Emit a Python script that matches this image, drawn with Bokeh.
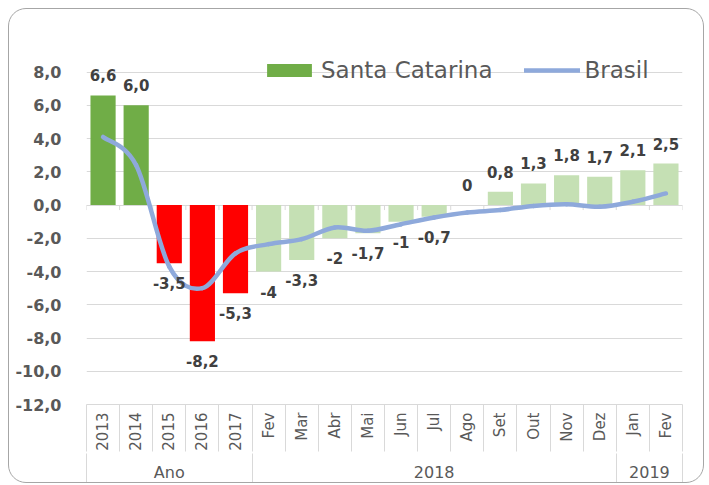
import math
from bokeh.plotting import figure
from bokeh.models import Range1d, LinearAxis, FixedTicker, ColumnDataSource, Legend, LegendItem
from bokeh.core.properties import value
from bokeh.embed import file_html
from bokeh.resources import INLINE

# ---- data ----
categories = ["2013", "2014", "2015", "2016", "2017",
              "Fev", "Mar", "Abr", "Mai", "Jun", "Jul", "Ago", "Set", "Out", "Nov", "Dez",
              "Jan", "Fev"]
groups = ["Ano"] * 5 + ["2018"] * 11 + ["2019"] * 2
group_names = ["Ano", "2018", "2019"]
santa_catarina = [6.6, 6.0, -3.5, -8.2, -5.3, -4.0, -3.3, -2.0, -1.7, -1.0, -0.7, 0.0,
                  0.8, 1.3, 1.8, 1.7, 2.1, 2.5]
sc_labels = ["6,6", "6,0", "-3,5", "-8,2", "-5,3", "-4", "-3,3", "-2", "-1,7", "-1", "-0,7", "0",
             "0,8", "1,3", "1,8", "1,7", "2,1", "2,5"]
brasil = [4.1, 2.4, -3.7, -5.0, -2.9, -2.35, -2.05, -1.35, -1.55, -1.15, -0.75, -0.45,
          -0.3, -0.05, 0.05, -0.1, 0.2, 0.7]
y_ticks = [-12, -10, -8, -6, -4, -2, 0, 2, 4, 6, 8]
y_tick_labels = ["-12,0", "-10,0", "-8,0", "-6,0", "-4,0", "-2,0", "0,0", "2,0", "4,0", "6,0", "8,0"]

FONT = "DejaVu Sans"
TXT = "#595959"
GRID = "#D9D9D9"

n = len(categories)
xs = list(range(n))

def bar_color(g, v):
    if g == "Ano":
        return "#70AD47" if v >= 0 else "#FF0000"
    return "#C5E0B4"

colors = [bar_color(g, v) for g, v in zip(groups, santa_catarina)]

# headroom above the top gridline for the legend
Y_TOP = y_ticks[-1] + 1.0

p = figure(width=696, height=475,
           x_range=Range1d(-0.5, n - 0.5), y_range=Range1d(y_ticks[0], Y_TOP),
           output_backend="svg", toolbar_location=None, x_axis_location=None,
           min_border_left=77, min_border_right=23, min_border_top=46, min_border_bottom=78)
p.styles = {"border": "1px solid #A6A6A6", "border-radius": "18px", "background-color": "white",
            "margin": "8px 0 0 8px"}
p.border_fill_color = None
p.background_fill_color = "white"
p.outline_line_color = None
p.xgrid.visible = False

# y axis
p.yaxis.ticker = FixedTicker(ticks=y_ticks)
p.yaxis.major_label_overrides = {t: s for t, s in zip(y_ticks, y_tick_labels)}
p.yaxis.axis_line_color = None
p.yaxis.major_tick_out = 0
p.yaxis.major_tick_in = 0
p.yaxis.minor_tick_out = 0
p.yaxis.minor_tick_in = 0
p.yaxis.major_tick_line_color = None
p.yaxis.minor_tick_line_color = None
p.yaxis.major_label_standoff = 25
p.yaxis.major_label_text_font = FONT
p.yaxis.major_label_text_font_size = "16px"
p.yaxis.major_label_text_font_style = "bold"
p.yaxis.major_label_text_color = TXT
p.ygrid.ticker = FixedTicker(ticks=y_ticks)
p.ygrid.grid_line_color = GRID
p.ygrid.grid_line_width = 1

# bars
src = ColumnDataSource(dict(x=xs, top=santa_catarina, color=colors, label=sc_labels,
                            off=[-20 if v >= 0 else 20 for v in santa_catarina]))
bars = p.vbar(x="x", top="top", bottom=0, width=0.76, fill_color="color", line_color=None, source=src)

# small ticks on the zero line at category boundaries
bounds = [i - 0.5 for i in range(n + 1)]
p.ray(x=bounds, y=[0] * len(bounds), length=5, length_units="screen", angle=-math.pi / 2,
      line_color=GRID, line_width=1)

# smoothed Brasil line (Catmull-Rom -> cubic Bezier through the data points)
x0, y0, x1, y1, cx0, cy0, cx1, cy1 = [], [], [], [], [], [], [], []
for i in range(n - 1):
    im = max(i - 1, 0)
    ip2 = min(i + 2, n - 1)
    x0.append(xs[i]); y0.append(brasil[i])
    x1.append(xs[i + 1]); y1.append(brasil[i + 1])
    cx0.append(xs[i] + (xs[i + 1] - xs[im]) / 6.0)
    cy0.append(brasil[i] + (brasil[i + 1] - brasil[im]) / 6.0)
    cx1.append(xs[i + 1] - (xs[ip2] - xs[i]) / 6.0)
    cy1.append(brasil[i + 1] - (brasil[ip2] - brasil[i]) / 6.0)
line_r = p.bezier(x0=x0, y0=y0, x1=x1, y1=y1, cx0=cx0, cy0=cy0, cx1=cx1, cy1=cy1,
                  line_color="#8EA9DB", line_width=4.5, line_cap="round")

# data labels
p.text(x="x", y="top", text="label", y_offset="off", source=src,
       text_align="center", text_baseline="middle",
       text_font=value(FONT), text_font_size="15px", text_font_style="bold", text_color="#404040")

# category axis (labels + boundary separators)
SEP_A = 47
axA = LinearAxis(ticker=FixedTicker(ticks=xs, minor_ticks=bounds),
                 major_label_overrides={i: c for i, c in zip(xs, categories)},
                 major_label_orientation=math.pi / 2,
                 major_tick_out=0, major_tick_in=0, minor_tick_out=SEP_A, minor_tick_in=0,
                 minor_tick_line_color=GRID, axis_line_color=GRID,
                 major_label_standoff=8 - SEP_A, major_label_text_font=FONT,
                 major_label_text_font_size="15px", major_label_text_color=TXT)
p.add_layout(axA, "below")

# group axis
SEP_B = 40
g_centers, g_bounds = [], [-0.5]
for g in group_names:
    idx = [i for i, gg in enumerate(groups) if gg == g]
    g_centers.append((idx[0] + idx[-1]) / 2.0)
    g_bounds.append(idx[-1] + 0.5)
axB = LinearAxis(ticker=FixedTicker(ticks=g_centers, minor_ticks=g_bounds),
                 major_label_overrides={c: g for c, g in zip(g_centers, group_names)},
                 major_tick_out=0, major_tick_in=0, minor_tick_out=SEP_B, minor_tick_in=0,
                 minor_tick_line_color=GRID, axis_line_color=None,
                 major_label_standoff=9 - SEP_B, major_label_text_font=FONT,
                 major_label_text_font_size="16px", major_label_text_color=TXT,
                 major_label_text_line_height=1.0)
p.add_layout(axB, "below")

legend = Legend(items=[LegendItem(label="Santa Catarina", renderers=[bars], index=0),
                       LegendItem(label="Brasil", renderers=[line_r])],
                orientation="horizontal", location=(175, 321),
                glyph_width=56, glyph_height=16, label_standoff=4, spacing=32,
                padding=0, margin=0, border_line_color=None, background_fill_alpha=0,
                label_text_font=FONT, label_text_font_size="23px", label_text_color=TXT)
p.add_layout(legend, "center")

open("out.html", "w").write(file_html(p, INLINE))
